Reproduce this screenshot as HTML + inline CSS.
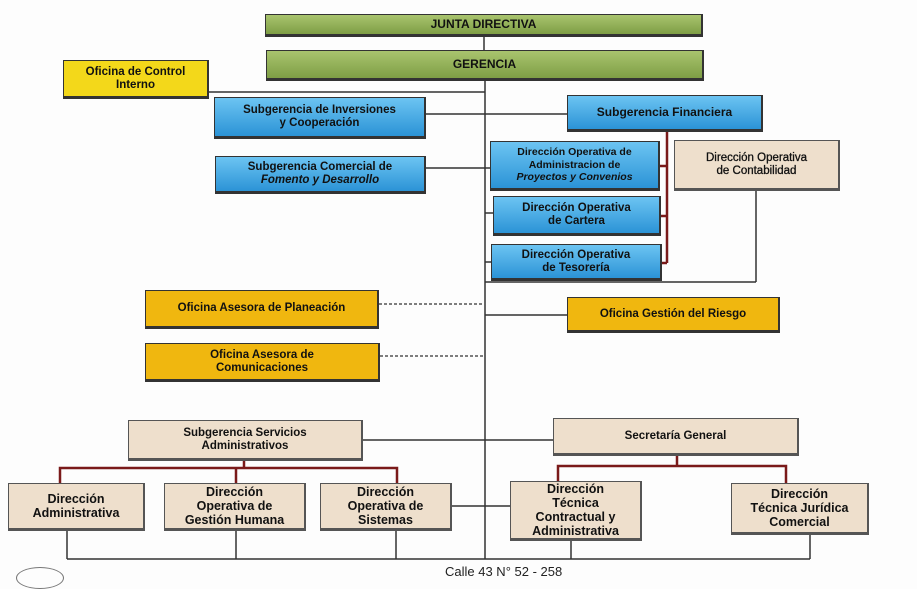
<!DOCTYPE html>
<html><head><meta charset="utf-8"><style>
body{margin:0;width:917px;height:573px;background:#fdfdfd;position:relative;overflow:hidden;font-family:"Liberation Sans",sans-serif}
.b{position:absolute;box-sizing:border-box;display:flex;align-items:center;justify-content:center;text-align:center;font-weight:bold;color:#111;font-size:11.5px;line-height:13px;border:1px solid #333;border-bottom:3px solid #333;border-right:2px solid #333}
.g{background:linear-gradient(#a9c46e,#7e9e45);font-size:12px}
.bl{background:linear-gradient(#6cc4f2,#2b93d6)}
.y{background:#f3d81a}
.o{background:#f0b70f}
.c{background:#eedfcc;border-color:#555}
.k{font-size:12.5px;line-height:14px}
svg{position:absolute;left:0;top:0}
</style></head><body>
<svg width="917" height="573">
<g stroke="#333" stroke-width="1.5" fill="none">
<line x1="484" y1="36" x2="484" y2="50"/>
<line x1="485" y1="80" x2="485" y2="559"/>
<line x1="208" y1="92" x2="485" y2="92"/>
<line x1="426" y1="114" x2="567" y2="114"/>
<line x1="426" y1="168" x2="490" y2="168"/>
<line x1="485" y1="213" x2="493" y2="213"/>
<line x1="485" y1="262" x2="491" y2="262"/>
<line x1="756" y1="190" x2="756" y2="282"/>
<line x1="485" y1="282" x2="756" y2="282"/>
<line x1="485" y1="315" x2="567" y2="315"/>
<line x1="363" y1="440" x2="553" y2="440"/>
<line x1="452" y1="506" x2="510" y2="506"/>
<line x1="67" y1="559" x2="810" y2="559"/>
<line x1="67" y1="531" x2="67" y2="559"/>
<line x1="236" y1="531" x2="236" y2="559"/>
<line x1="396" y1="531" x2="396" y2="559"/>
<line x1="571" y1="541" x2="571" y2="559"/>
<line x1="810" y1="535" x2="810" y2="559"/>
</g>
<g stroke="#333" stroke-width="1.2" stroke-dasharray="3,2">
<line x1="379" y1="304" x2="484" y2="304"/>
<line x1="380" y1="356" x2="484" y2="356"/>
</g>
<g stroke="#7a1a1a" stroke-width="2.5" fill="none">
<line x1="667" y1="131" x2="667" y2="263"/>
<line x1="660" y1="166" x2="667" y2="166"/>
<line x1="661" y1="216" x2="667" y2="216"/>
<line x1="662" y1="263" x2="667" y2="263"/>
<line x1="244" y1="460" x2="244" y2="468"/>
<polyline points="60,483 60,468 397,468 397,483"/>
<line x1="236" y1="468" x2="236" y2="483"/>
<line x1="677" y1="455" x2="677" y2="466"/>
<polyline points="558,481 558,466 786,466 786,483"/>
</g>
</svg>
<div class="b g" style="left:265px;top:14px;width:438px;height:23px">JUNTA DIRECTIVA</div>
<div class="b g" style="left:266px;top:50px;width:438px;height:31px">GERENCIA</div>
<div class="b y" style="left:63px;top:60px;width:146px;height:39px">Oficina de Control<br>Interno</div>
<div class="b bl" style="left:214px;top:97px;width:212px;height:42px">Subgerencia de Inversiones<br>y Cooperación</div>
<div class="b bl" style="left:215px;top:156px;width:211px;height:38px"><span>Subgerencia Comercial de<br><i>Fomento y Desarrollo</i></span></div>
<div class="b bl" style="left:567px;top:95px;width:196px;height:37px;font-size:12px">Subgerencia Financiera</div>
<div class="b bl" style="left:490px;top:141px;width:170px;height:50px;font-size:10.5px;line-height:12.5px"><span>Dirección Operativa de<br>Administracion de<br><i>Proyectos y Convenios</i></span></div>
<div class="b bl" style="left:493px;top:196px;width:168px;height:40px">Dirección Operativa<br>de Cartera</div>
<div class="b bl" style="left:491px;top:244px;width:171px;height:37px">Dirección Operativa<br>de Tesorería</div>
<div class="b c" style="left:674px;top:140px;width:166px;height:51px;font-weight:normal;-webkit-text-stroke:0.3px #111">Dirección Operativa<br>de Contabilidad</div>
<div class="b o" style="left:567px;top:297px;width:213px;height:36px">Oficina Gestión del Riesgo</div>
<div class="b o" style="left:145px;top:290px;width:234px;height:39px">Oficina Asesora de Planeación</div>
<div class="b o" style="left:145px;top:343px;width:235px;height:39px">Oficina Asesora de<br>Comunicaciones</div>
<div class="b c" style="left:128px;top:420px;width:235px;height:41px">Subgerencia Servicios<br>Administrativos</div>
<div class="b c" style="left:553px;top:418px;width:246px;height:38px">Secretaría General</div>
<div class="b c k" style="left:8px;top:483px;width:137px;height:48px">Dirección<br>Administrativa</div>
<div class="b c k" style="left:164px;top:483px;width:142px;height:48px">Dirección<br>Operativa de<br>Gestión Humana</div>
<div class="b c k" style="left:320px;top:483px;width:132px;height:48px">Dirección<br>Operativa de<br>Sistemas</div>
<div class="b c k" style="left:510px;top:481px;width:132px;height:60px">Dirección<br>Técnica<br>Contractual y<br>Administrativa</div>
<div class="b c k" style="left:731px;top:483px;width:138px;height:52px">Dirección<br>Técnica Jurídica<br>Comercial</div>
<div style="position:absolute;left:445px;top:564px;font-size:13px;color:#222">Calle 43 N° 52 - 258</div>
<div style="position:absolute;left:16px;top:567px;width:46px;height:20px;border:1px solid #777;border-radius:50%"></div>
</body></html>
